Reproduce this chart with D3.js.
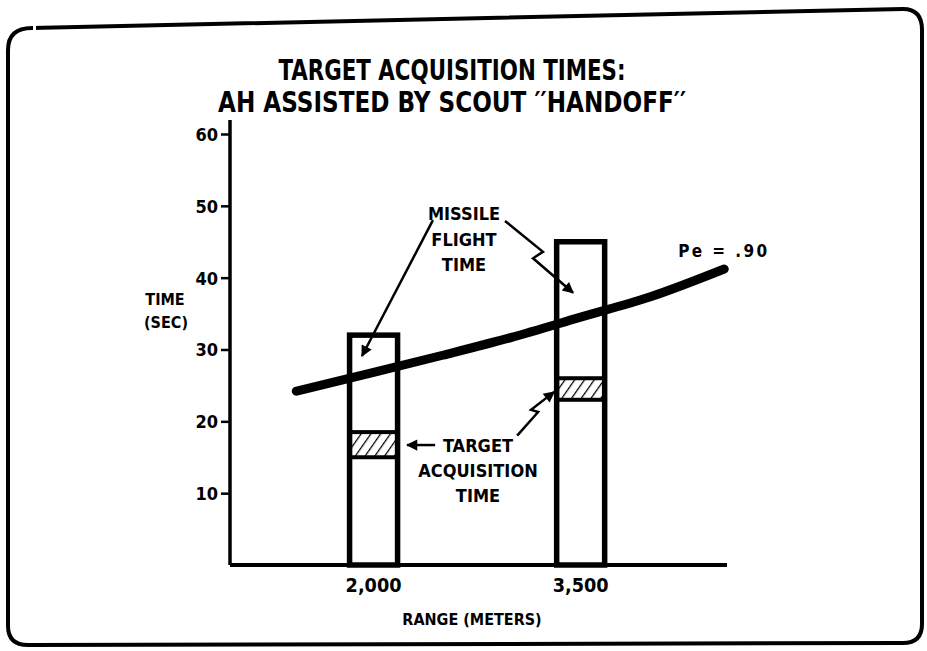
<!DOCTYPE html>
<html>
<head>
<meta charset="utf-8">
<script src="https://cdn.jsdelivr.net/npm/d3@7"></script>
<style>
  body { margin: 0; background: #fff; }
  text { font-family: "Liberation Sans Narrow", "DejaVu Sans Condensed", "DejaVu Sans", sans-serif; font-stretch: condensed; font-weight: bold; fill: #000; }
</style>
</head>
<body>
<svg id="chart"></svg>
<script>
// data
const ranges = [2000, 3500];            // meters
const rangeLabels = ["2,000", "3,500"];
const flightTop = [32, 45];             // top of bar, sec
const acqLow = [15, 23];                // hatched band, sec
const acqHigh = [18.5, 26];
const yTicks = [10, 20, 30, 40, 50, 60];

// Pe = .90 curve
const peRange = [1440, 2000, 2500, 3000, 3500, 4000, 4540];
const peTime = [24.2, 26.8, 29.2, 31.7, 34.5, 37.3, 41.2];

const width = 927, height = 651;

const svg = d3.select("#chart")
    .attr("width", width)
    .attr("height", height);

// scales
const x = d3.scaleLinear().domain([960, 4560]).range([230, 727]);
const y = d3.scaleLinear().domain([0, 60]).range([565, 134]);

// frame _____________________________________
const frame = d3.path();
frame.moveTo(8, 50);
frame.quadraticCurveTo(8, 28, 32, 28);
frame.lineTo(903, 9);
frame.quadraticCurveTo(922, 9, 922, 30);
frame.lineTo(922, 624);
frame.quadraticCurveTo(922, 643, 903, 643);
frame.lineTo(28, 645);
frame.quadraticCurveTo(8, 645, 8, 626);
frame.closePath();
svg.append("path")
    .attr("d", frame.toString())
    .attr("fill", "none")
    .attr("stroke", "#000")
    .attr("stroke-width", 4);
// little gap in the top-left of the frame
svg.append("line")
    .attr("x1", 33).attr("y1", 28).attr("x2", 36).attr("y2", 28)
    .attr("stroke", "#fff").attr("stroke-width", 6);

// title _____________________________________
svg.append("text")
    .attr("x", 452).attr("y", 80)
    .attr("text-anchor", "middle")
    .attr("textLength", 347)
    .attr("lengthAdjust", "spacingAndGlyphs")
    .style("font-size", "28px")
    .text("TARGET ACQUISITION TIMES:");
svg.append("text")
    .attr("x", 452).attr("y", 112)
    .attr("text-anchor", "middle")
    .attr("textLength", 468)
    .attr("lengthAdjust", "spacingAndGlyphs")
    .style("font-size", "28px")
    .text("AH ASSISTED BY SCOUT \u2032\u2032HANDOFF\u2032\u2032");

// hatch pattern
const defs = svg.append("defs");
defs.append("pattern")
    .attr("id", "hatch")
    .attr("patternUnits", "userSpaceOnUse")
    .attr("width", 8).attr("height", 8)
    .attr("patternTransform", "rotate(35)")
  .append("line")
    .attr("x1", 0).attr("y1", 0).attr("x2", 0).attr("y2", 8)
    .attr("stroke", "#000").attr("stroke-width", 2.5);

defs.append("marker")
    .attr("id", "head")
    .attr("viewBox", "0 0 10 10")
    .attr("refX", 9).attr("refY", 5)
    .attr("markerWidth", 5.5).attr("markerHeight", 4.5)
    .attr("orient", "auto")
    .attr("markerUnits", "strokeWidth")
  .append("path")
    .attr("d", "M0,0L10,5L0,10Z")
    .attr("fill", "#000");

// axes _____________________________________
const yAxis = d3.axisLeft(y).tickValues(yTicks).tickSize(9).tickPadding(3);
const gy = svg.append("g")
    .attr("transform", `translate(${x.range()[0]},0)`)
    .call(yAxis);
gy.select(".domain")
    .attr("d", `M0,${y(0)}V${y(60) - 14}`)
    .attr("stroke-width", 3.5);
gy.selectAll(".tick line").attr("stroke-width", 2.5);
gy.selectAll(".tick text")
    .style("font-size", "18px")
    .attr("dy", "0.36em");

svg.append("line")
    .attr("x1", x.range()[0]).attr("x2", x.range()[1])
    .attr("y1", y(0)).attr("y2", y(0))
    .attr("stroke", "#000")
    .attr("stroke-width", 4);

svg.selectAll("x-labels")
  .data(ranges)
  .join("text")
    .attr("x", d => x(d))
    .attr("y", 592)
    .attr("text-anchor", "middle")
    .attr("textLength", 56)
    .attr("lengthAdjust", "spacingAndGlyphs")
    .style("font-size", "19px")
    .text((d, i) => rangeLabels[i]);

svg.append("text")
    .attr("x", 472).attr("y", 625)
    .attr("text-anchor", "middle")
    .style("font-size", "16px")
    .text("RANGE (METERS)");

svg.append("text")
    .attr("x", 165).attr("y", 305)
    .attr("text-anchor", "middle")
    .style("font-size", "16px")
    .text("TIME");
svg.append("text")
    .attr("x", 166).attr("y", 328)
    .attr("text-anchor", "middle")
    .style("font-size", "16px")
    .text("(SEC)");

// bars _____________________________________
const barW = 48;

svg.selectAll("hatchBands")
  .data(ranges)
  .join("rect")
    .attr("x", d => x(d) - barW / 2)
    .attr("y", (d, i) => y(acqHigh[i]))
    .attr("width", barW)
    .attr("height", (d, i) => y(acqLow[i]) - y(acqHigh[i]))
    .attr("fill", "url(#hatch)")
    .attr("stroke", "#000")
    .attr("stroke-width", 4);

svg.selectAll("bars")
  .data(ranges)
  .join("rect")
    .attr("x", d => x(d) - barW / 2)
    .attr("y", (d, i) => y(flightTop[i]))
    .attr("width", barW)
    .attr("height", (d, i) => y(0) - y(flightTop[i]))
    .attr("fill", "none")
    .attr("stroke", "#000")
    .attr("stroke-width", 5.5);

// Pe curve _____________________________________
const peLine = d3.line()
    .x(d => x(d[0]))
    .y(d => y(d[1]))
    .curve(d3.curveMonotoneX);

svg.append("path")
    .datum(peRange.map((r, i) => [r, peTime[i]]))
    .attr("d", peLine)
    .attr("fill", "none")
    .attr("stroke", "#000")
    .attr("stroke-width", 9)
    .attr("stroke-linecap", "round");

svg.append("text")
    .attr("x", x(4206)).attr("y", y(42.9))
    .attr("textLength", 89)
    .attr("lengthAdjust", "spacing")
    .style("font-size", "17px")
    .text("Pe = .90");

// annotations _____________________________________
const note = (lines, cx, top, gap, size) => {
  lines.forEach((t, i) => {
    svg.append("text")
        .attr("x", cx).attr("y", top + i * gap)
        .attr("text-anchor", "middle")
        .style("font-size", size + "px")
        .text(t);
  });
};
note(["MISSILE", "FLIGHT", "TIME"], 464, 220, 25.5, 18);
note(["TARGET", "ACQUISITION", "TIME"], 478, 452, 25, 18);

// arrow paths in data space (meters, seconds)
const arrows = [
  [[2430, 48.0], [1916, 29.1]],
  [[2952, 47.9], [3227, 43.6], [3155, 42.7], [3445, 37.9]],
  [[2446, 16.7], [2243, 16.7]],
  [[3040, 18.0], [3192, 21.3], [3141, 21.6], [3308, 24.1]]
];
const arrowLine = d3.line().x(d => x(d[0])).y(d => y(d[1]));

svg.selectAll("arrows")
  .data(arrows)
  .join("path")
    .attr("d", arrowLine)
    .attr("fill", "none")
    .attr("stroke", "#000")
    .attr("stroke-width", 2.5)
    .attr("stroke-linejoin", "miter")
    .attr("marker-end", "url(#head)");
</script>
</body>
</html>
